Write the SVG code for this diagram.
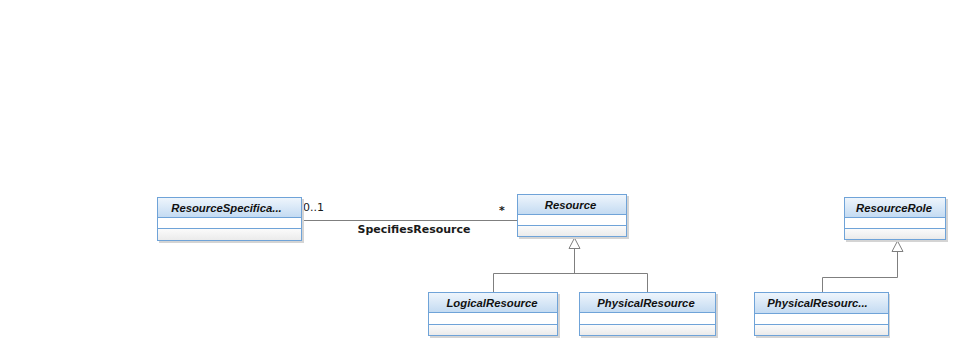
<svg xmlns="http://www.w3.org/2000/svg" width="961" height="351" viewBox="0 0 961 351">
  <defs>
    <linearGradient id="hdr" x1="0" y1="0" x2="0" y2="1">
      <stop offset="0" stop-color="#eef5fc"/>
      <stop offset="1" stop-color="#c4dbf2"/>
    </linearGradient>
    <linearGradient id="low" x1="0" y1="0" x2="0" y2="1">
      <stop offset="0" stop-color="#fbfbfb"/>
      <stop offset="1" stop-color="#ebebeb"/>
    </linearGradient>
    <style>
      .shadow { fill: #d4d4d4; }
      .box { stroke: #6fa3d8; stroke-width: 1; }
      .sep { stroke: #6fa3d8; stroke-width: 1; }
      .name { font-family: "Liberation Sans", Arial, sans-serif; font-size: 11.3px; font-weight: bold; font-style: italic; fill: #111111; text-anchor: middle; }
      .lbl { font-family: "DejaVu Sans", "Liberation Sans", sans-serif; font-size: 11px; fill: #1a1a1a; }
      .edge { fill: none; stroke: #7f7f7f; stroke-width: 1; }
      .tri { fill: #ffffff; stroke: #7f7f7f; stroke-width: 1; }
    </style>
  </defs>
  <rect width="961" height="351" fill="#ffffff"/>

  <!-- connectors -->
  <g id="connectors">
    <!-- association ResourceSpecification - Resource -->
    <line class="edge" x1="302" y1="220.5" x2="517" y2="220.5"/>
    <text class="lbl" x="303" y="211">0..1</text>
    <text class="lbl" x="499" y="214" font-size="13" font-weight="bold">*</text>
    <text class="lbl" x="414" y="233" text-anchor="middle" font-weight="bold">SpecifiesResource</text>
    <!-- generalization to Resource -->
    <polyline class="edge" points="493.5,292 493.5,273.5 647.5,273.5 647.5,292"/>
    <line class="edge" x1="574.5" y1="249" x2="574.5" y2="273.5"/>
    <polygon class="tri" points="574.5,238 569,248.5 580,248.5"/>
    <!-- generalization to ResourceRole -->
    <polyline class="edge" points="822.5,292 822.5,277.5 897.5,277.5 897.5,252"/>
    <polygon class="tri" points="897.5,241 892,251.5 903,251.5"/>
  </g>

  <!-- ResourceSpecification -->
  <g id="ResourceSpecification">
    <rect class="shadow" x="159" y="199" width="145" height="44"/>
    <rect x="157.5" y="197.5" width="144" height="43" fill="#ffffff" class="box"/>
    <rect x="158" y="198" width="143" height="19" fill="url(#hdr)"/>
    <rect x="158" y="229" width="143" height="11" fill="url(#low)"/>
    <line class="sep" x1="157.5" y1="217.5" x2="301.5" y2="217.5"/>
    <line class="sep" x1="157.5" y1="228.5" x2="301.5" y2="228.5"/>
    <rect x="157.5" y="197.5" width="144" height="43" fill="none" class="box"/>
    <text class="name" x="226.5" y="211.5">ResourceSpecifica...</text>
  </g>

  <!-- Resource -->
  <g id="Resource">
    <rect class="shadow" x="519" y="196" width="110" height="43"/>
    <rect x="517.5" y="194.5" width="109" height="42" fill="#ffffff" class="box"/>
    <rect x="518" y="195" width="108" height="19" fill="url(#hdr)"/>
    <rect x="518" y="226" width="108" height="10" fill="url(#low)"/>
    <line class="sep" x1="517.5" y1="214.5" x2="626.5" y2="214.5"/>
    <line class="sep" x1="517.5" y1="225.5" x2="626.5" y2="225.5"/>
    <rect x="517.5" y="194.5" width="109" height="42" fill="none" class="box"/>
    <text class="name" x="570.5" y="208.5">Resource</text>
  </g>

  <!-- LogicalResource -->
  <g id="LogicalResource">
    <rect class="shadow" x="430" y="294" width="130" height="44"/>
    <rect x="428.5" y="292.5" width="129" height="43" fill="#ffffff" class="box"/>
    <rect x="429" y="293" width="128" height="19" fill="url(#hdr)"/>
    <rect x="429" y="325" width="128" height="10" fill="url(#low)"/>
    <line class="sep" x1="428.5" y1="312.5" x2="557.5" y2="312.5"/>
    <line class="sep" x1="428.5" y1="324.5" x2="557.5" y2="324.5"/>
    <rect x="428.5" y="292.5" width="129" height="43" fill="none" class="box"/>
    <text class="name" x="492" y="306.5">LogicalResource</text>
  </g>

  <!-- PhysicalResource -->
  <g id="PhysicalResource">
    <rect class="shadow" x="581" y="294" width="137" height="44"/>
    <rect x="579.5" y="292.5" width="136" height="43" fill="#ffffff" class="box"/>
    <rect x="580" y="293" width="135" height="19" fill="url(#hdr)"/>
    <rect x="580" y="325" width="135" height="10" fill="url(#low)"/>
    <line class="sep" x1="579.5" y1="312.5" x2="715.5" y2="312.5"/>
    <line class="sep" x1="579.5" y1="324.5" x2="715.5" y2="324.5"/>
    <rect x="579.5" y="292.5" width="136" height="43" fill="none" class="box"/>
    <text class="name" x="646" y="306.5">PhysicalResource</text>
  </g>

  <!-- ResourceRole -->
  <g id="ResourceRole">
    <rect class="shadow" x="846" y="199" width="102" height="43"/>
    <rect x="844.5" y="197.5" width="101" height="42" fill="#ffffff" class="box"/>
    <rect x="845" y="198" width="100" height="19" fill="url(#hdr)"/>
    <rect x="845" y="229" width="100" height="10" fill="url(#low)"/>
    <line class="sep" x1="844.5" y1="217.5" x2="945.5" y2="217.5"/>
    <line class="sep" x1="844.5" y1="228.5" x2="945.5" y2="228.5"/>
    <rect x="844.5" y="197.5" width="101" height="42" fill="none" class="box"/>
    <text class="name" x="894" y="211.5">ResourceRole</text>
  </g>

  <!-- PhysicalResourceRole -->
  <g id="PhysicalResourceRole">
    <rect class="shadow" x="756" y="294" width="134" height="44"/>
    <rect x="754.5" y="292.5" width="134" height="43" fill="#ffffff" class="box"/>
    <rect x="755" y="293" width="133" height="20" fill="url(#hdr)"/>
    <rect x="755" y="325" width="133" height="10" fill="url(#low)"/>
    <line class="sep" x1="754.5" y1="313.5" x2="888.5" y2="313.5"/>
    <line class="sep" x1="754.5" y1="324.5" x2="888.5" y2="324.5"/>
    <rect x="754.5" y="292.5" width="134" height="43" fill="none" class="box"/>
    <text class="name" x="817.5" y="307">PhysicalResourc...</text>
  </g>
</svg>
